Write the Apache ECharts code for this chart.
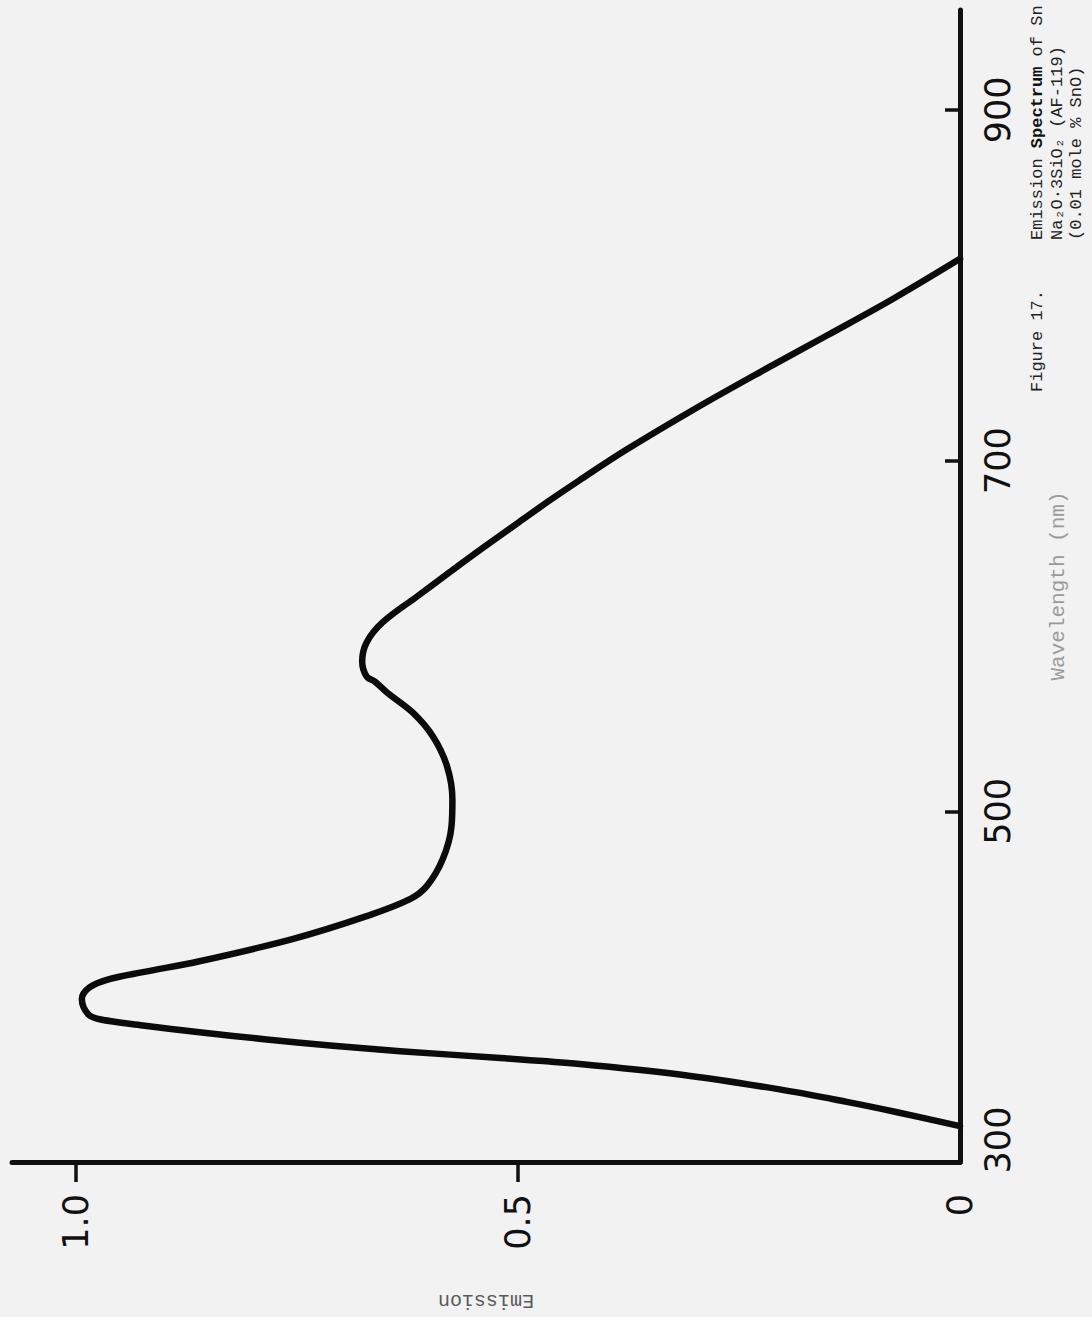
<!DOCTYPE html>
<html>
<head>
<meta charset="utf-8">
<title>Emission Spectrum of Sn in Na2O·3SiO2</title>
<script src="https://cdn.jsdelivr.net/npm/echarts@6/dist/echarts.min.js"></script>
<style>
  html, body { margin: 0; padding: 0; background: #f2f2f2; }
  #chart { width: 1092px; height: 1317px; }
</style>
</head>
<body>
<div id="chart"></div>
<script>
// Emission curve (wavelength in nm, relative emission)
const wavelength = [
  320.5, 328.4, 334.3, 341.4, 349.9, 355.9, 359.3, 363.2, 366.3, 369.9,
  374.0, 377.9, 381.4, 384.3, 392.9, 399.7, 404.3, 408.3, 414.5, 427.1,
  440.2, 449.9, 457.3, 472.6, 491.5, 506.8, 525.6, 542.7, 556.4, 567.8,
  574.1, 576.9, 585.5, 596.3, 607.7, 622.5, 636.4, 650.1, 664.1, 677.3,
  688.9, 706.3, 728.9, 750.5, 771.5, 792.2, 815.1
];
const emission = [
  0.000, 0.071, 0.128, 0.204, 0.317, 0.430, 0.520, 0.633, 0.709, 0.784,
  0.860, 0.924, 0.973, 0.986, 0.993, 0.984, 0.962, 0.924, 0.860, 0.755,
  0.671, 0.622, 0.603, 0.585, 0.575, 0.574, 0.580, 0.596, 0.619, 0.648,
  0.662, 0.671, 0.676, 0.671, 0.653, 0.614, 0.577, 0.540, 0.501, 0.464,
  0.430, 0.377, 0.302, 0.226, 0.150, 0.076, 0.000
];

// Axis ticks and their printed labels
const wavelengthTicks = [300, 500, 700, 900];
const emissionTicks = [0, 0.5, 1.0];
const emissionTickLabels = ['0', '0.5', '1.0'];

// Typed caption beside the plot
const figureNumber = 'Figure 17.';
const captionLines = [
  '{n|Emission }{b|Spectrum}{n| of Sn}',
  '{n|Na\u2082O\u00b73SiO\u2082 (AF-119)}',
  '{n|(0.01 mole % SnO)}'
];

const ink = '#111';
const numFont = '"DejaVu Sans", "Noto Sans", sans-serif';
const typeFont = '"Liberation Mono", "DejaVu Sans Mono", monospace';

const chart = echarts.init(document.getElementById('chart'), null, { renderer: 'svg' });

chart.setOption({
  backgroundColor: '#f2f2f2',
  animation: false,
  grid: { left: 12, right: 132, top: 10, bottom: 155, containLabel: false },
  xAxis: {
    type: 'value',
    inverse: true,
    position: 'bottom',
    min: 0,
    max: 1.072,
    name: 'Emission',
    nameLocation: 'middle',
    nameGap: 128,
    nameRotate: 180,
    nameTextStyle: { fontFamily: typeFont, fontSize: 20, color: '#5a5a5a' },
    axisLine: { show: true, lineStyle: { color: ink, width: 5, cap: 'round' } },
    axisTick: {
      show: true,
      inside: false,
      length: 20,
      customValues: emissionTicks.filter(v => v > 0),
      lineStyle: { color: ink, width: 3.5 }
    },
    axisLabel: {
      customValues: emissionTicks,
      rotate: 90,
      margin: 32,
      fontFamily: numFont,
      fontSize: 35,
      color: ink,
      formatter: v => emissionTickLabels[emissionTicks.indexOf(v)] ?? String(v)
    },
    splitLine: { show: false }
  },
  yAxis: {
    type: 'value',
    position: 'right',
    min: 300,
    max: 957,
    name: 'Wavelength (nm)',
    nameLocation: 'middle',
    nameGap: 88,
    nameRotate: 90,
    nameTextStyle: { fontFamily: typeFont, fontSize: 21, color: '#9a9a9a' },
    axisLine: { show: true, lineStyle: { color: ink, width: 5, cap: 'round' } },
    axisTick: {
      show: true,
      inside: true,
      length: 15,
      customValues: wavelengthTicks.slice(1),
      lineStyle: { color: ink, width: 3.5 }
    },
    axisLabel: {
      customValues: wavelengthTicks,
      rotate: 90,
      margin: 20,
      fontFamily: numFont,
      fontSize: 35,
      color: ink,
      // the first label is nudged off the corner of the two axes
      formatter: v => (v === wavelengthTicks[0] ? '{lo|' + v + '}' : String(v)),
      rich: {
        lo: { fontFamily: numFont, fontSize: 35, color: ink, padding: [0, 0, 0, 44] }
      }
    },
    splitLine: { show: false }
  },
  series: [{
    type: 'line',
    name: 'Emission',
    data: wavelength.map((w, i) => [emission[i], w]),
    showSymbol: false,
    symbol: 'none',
    smooth: 0.35,
    lineStyle: { color: '#0b0b0b', width: 6.5, cap: 'round', join: 'round' }
  }],
  graphic: [
    {
      type: 'text', x: 1028, y: 392, rotation: Math.PI / 2,
      style: {
        text: figureNumber, font: '17px ' + typeFont, fill: '#222',
        textAlign: 'left', textVerticalAlign: 'top', lineHeight: 19.5
      }
    },
    {
      type: 'text', x: 1028, y: 240, rotation: Math.PI / 2,
      style: {
        text: captionLines.join('\n'),
        textAlign: 'left', textVerticalAlign: 'top',
        rich: {
          n: { fontFamily: typeFont, fontSize: 17, fill: '#222', lineHeight: 19.5 },
          b: { fontFamily: typeFont, fontSize: 17, fontWeight: 'bold', fill: '#111', lineHeight: 19.5 }
        }
      }
    }
  ]
});
</script>
</body>
</html>
